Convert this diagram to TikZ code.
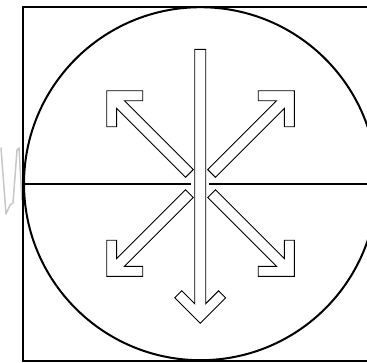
\documentclass[tikz,border=0pt]{standalone}
\newcommand{\fatarrowpath}[1]{(0,0) -- (-25.46,25.46) -- (-32.53,18.39) -- (-19.64,5.5) -- (-#1,5.5) -- (-#1,-5.5) -- (-19.64,-5.5) -- (-32.53,-18.39) -- (-25.46,-25.46) -- cycle}
\tikzset{
  frame/.style={line width=2pt, black},
  arrowshape/.style={line width=0.9pt, black, fill=white, line join=miter},
  scribble/.style={line width=1.5pt, black!22, line join=round, line cap=round}
}
\begin{document}
\begin{tikzpicture}[x=1pt,y=-1pt]
\useasboundingbox (0,0) rectangle (367,362);
\clip (0,0) rectangle (367,362);
% gray scribble at left
\draw[scribble] (1,148) -- (6,214) -- (10,205) -- (13,203) -- (17,150) -- (19,148) -- (22,200);
% frame and circle
\coordinate (c) at (200.5,183.7);
\draw[frame] (23,6.7) rectangle (377,360.7);
\draw[frame] (c) circle[radius=176.5];
\coordinate (hl) at (24,184);
\coordinate (hm1) at (191,184);
\coordinate (hm2) at (209.3,184);
\coordinate (hr) at (380,184);
\draw[frame] (hl) -- (hm1);
\draw[frame] (hm2) -- (hr);
% vertical arrow
\draw[arrowshape, shift={(200.2,323.3)}, rotate=-90] \fatarrowpath{274};
% diagonal arrows
\draw[arrowshape, shift={(106.7,90.7)}, rotate=135] \fatarrowpath{117};
\draw[arrowshape, shift={(294.3,90.7)}, rotate=45] \fatarrowpath{117};
\draw[arrowshape, shift={(106.7,276.3)}, rotate=-135] \fatarrowpath{117};
\draw[arrowshape, shift={(294.3,276.3)}, rotate=-45] \fatarrowpath{117};
\end{tikzpicture}
\end{document}
